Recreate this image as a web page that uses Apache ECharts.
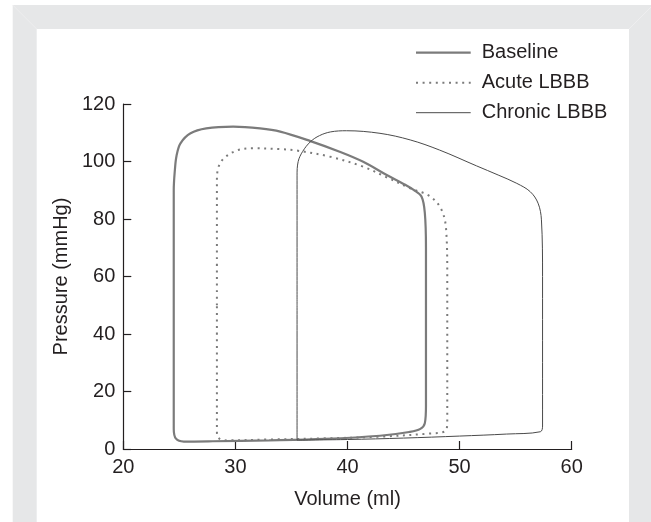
<!DOCTYPE html>
<html>
<head>
<meta charset="utf-8">
<script src="https://cdn.jsdelivr.net/npm/echarts@6/dist/echarts.min.js"></script>
<style>
html,body{margin:0;padding:0;background:#fff;}
#chart{width:651px;height:522px;}
</style>
</head>
<body>
<div id="chart"></div>
<script>
// Pressure-volume loops: [volume (ml), pressure (mmHg)]
var baselineLoop = [
  [24.5, 50], [24.5, 90], [24.6, 97], [24.75, 102], [25.1, 106.3], [26.0, 109.8], [27.4, 111.5],
  [29.8, 112.1], [32.2, 111.5], [34.0, 110.4], [36.7, 107.1], [39.3, 103.4], [41.4, 99.9],
  [43.5, 95.3], [45.0, 92.2], [45.9, 90.1], [46.6, 87.8], [46.9, 82], [47.0, 70], [47.0, 40],
  [47.0, 15], [46.9, 9], [46.5, 7.0], [45.5, 5.9], [42.9, 4.6], [38, 3.5], [33, 3.0],
  [28, 2.7], [25.4, 2.6], [24.7, 3.6], [24.5, 7], [24.5, 20], [24.5, 50]
];
var acuteLoop = [
  [28.35, 50], [28.35, 93], [28.45, 97.5], [28.9, 100.8], [30.1, 103.8], [31.6, 104.6],
  [34.0, 104.3], [35.5, 103.8], [38.4, 101.7], [41.4, 98.2], [43.5, 94.5], [45.6, 90.7],
  [47.4, 87.8], [48.4, 83.1], [48.8, 76.2], [48.9, 60], [48.9, 30], [48.9, 9.5],
  [48.7, 6.2], [47.4, 5.4], [42.9, 4.3], [38, 3.7], [33, 3.3], [29.2, 3.0], [28.5, 3.8],
  [28.35, 6], [28.35, 20], [28.35, 50]
];
var chronicLoop = [
  [35.5, 50], [35.5, 95], [35.6, 100], [36.0, 103.5], [36.7, 106.9], [37.5, 109],
  [38.5, 110.3], [39.9, 110.7], [42.9, 109.8], [45.6, 107.5], [48.2, 104.0], [51.5, 98.5],
  [53.5, 95.2], [55.1, 92.4], [56.3, 89.5], [57.0, 85.5], [57.3, 79.7], [57.4, 60],
  [57.4, 30], [57.4, 8], [57.2, 6.0], [54.2, 5.2], [50, 4.5], [45, 3.8], [40, 3.3],
  [35.5, 3.1], [35.5, 20], [35.5, 50]
];
var seriesNames = ['Baseline', 'Acute LBBB', 'Chronic LBBB'];
var xTicks = [20, 30, 40, 50, 60];
var yTicks = [0, 20, 40, 60, 80, 100, 120];

var FONT = '"Liberation Sans", Arial, Helvetica, sans-serif';
var TXT = '#231f20';
var chart = echarts.init(document.getElementById('chart'), null, {renderer: 'canvas'});

function axisCommon(name, ticks, nameGap) {
  return {
    type: 'value',
    min: ticks[0], max: ticks[ticks.length - 1], interval: ticks[1] - ticks[0],
    name: name, nameLocation: 'middle', nameGap: nameGap,
    nameTextStyle: {fontFamily: FONT, fontSize: 20, color: TXT},
    axisLine: {show: true, lineStyle: {color: TXT, width: 1.2}},
    axisTick: {show: true, inside: true, length: 8, lineStyle: {color: TXT, width: 1.2}},
    axisLabel: {fontFamily: FONT, fontSize: 20, color: TXT, margin: 8},
    splitLine: {show: false}
  };
}

var legendY = [52.7, 82.7, 112.7];
var legendStyles = [
  {stroke: '#7b7b7b', lineWidth: 2.2},
  {stroke: '#7b7b7b', lineWidth: 2, lineDash: [2, 4.6]},
  {stroke: '#4a4a4a', lineWidth: 1}
];
var graphics = [
  {type: 'rect', z: -100, silent: true, shape: {x: 12.7, y: 5, width: 640, height: 520}, style: {fill: '#e6e7e8'}},
  {type: 'rect', z: -99, silent: true, shape: {x: 36.7, y: 29, width: 592.3, height: 500}, style: {fill: '#ffffff'}},
  {type: 'line', z: -98, silent: true, shape: {x1: 12.7, y1: 5, x2: 36.7, y2: 29}, style: {stroke: '#eeeeef', lineWidth: 1}},
  {type: 'line', z: -98, silent: true, shape: {x1: 651, y1: 7, x2: 629, y2: 29}, style: {stroke: '#eeeeef', lineWidth: 1}}
];
seriesNames.forEach(function (n, i) {
  graphics.push({type: 'line', silent: true, shape: {x1: 416, y1: legendY[i], x2: 470.7, y2: legendY[i]}, style: legendStyles[i]});
  graphics.push({type: 'text', silent: true, x: 481.7, y: legendY[i], style: {text: n, fontFamily: FONT, fontSize: 20, fill: TXT, textVerticalAlign: 'middle', verticalAlign: 'middle'}});
});

var option = {
  animation: false,
  grid: {left: 123.3, right: 79.3, top: 104, bottom: 73, containLabel: false},
  xAxis: axisCommon('Volume (ml)', xTicks, 40),
  yAxis: axisCommon('Pressure (mmHg)', yTicks, 45),
  graphic: graphics,
  series: [
    {name: seriesNames[0], type: 'line', data: baselineLoop, smooth: 0.35, symbol: 'none',
     lineStyle: {color: '#7b7b7b', width: 2.2}},
    {name: seriesNames[1], type: 'line', data: acuteLoop, smooth: 0.35, symbol: 'none',
     lineStyle: {color: '#7b7b7b', width: 2, type: [2, 4.6], cap: 'butt'}},
    {name: seriesNames[2], type: 'line', data: chronicLoop, smooth: 0.35, symbol: 'none',
     lineStyle: {color: '#4a4a4a', width: 1}}
  ]
};
chart.setOption(option);
</script>
</body>
</html>
